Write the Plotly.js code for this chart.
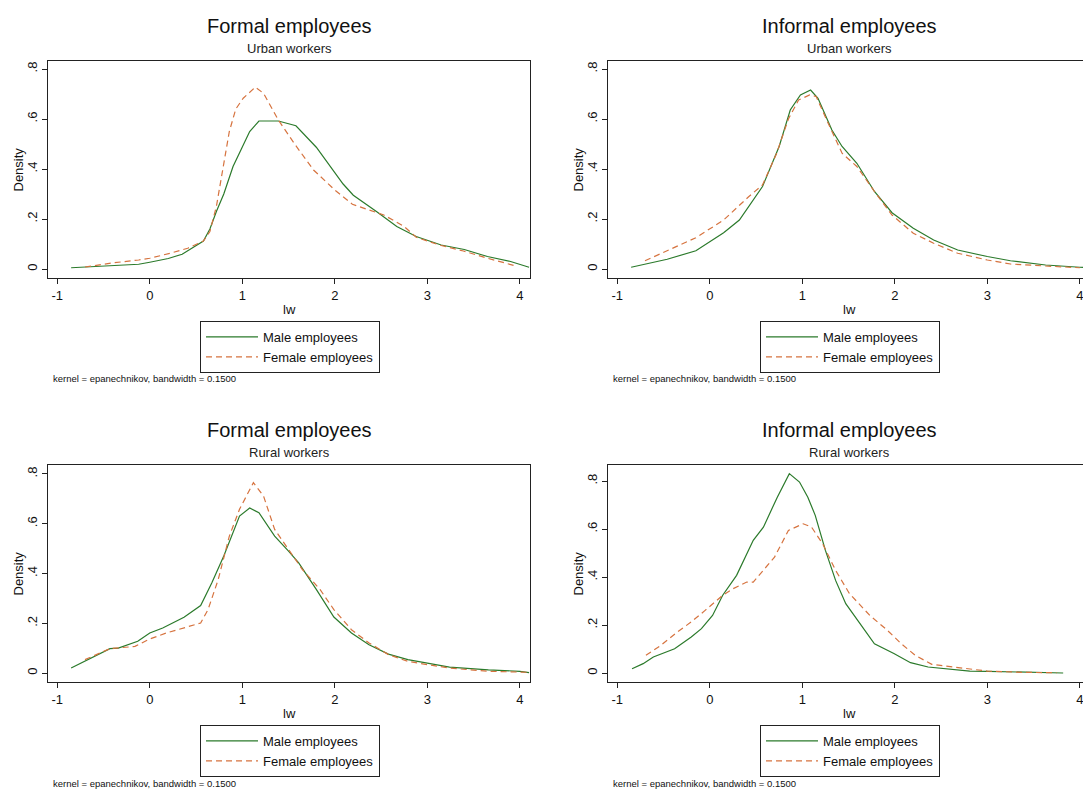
<!DOCTYPE html>
<html>
<head>
<meta charset="utf-8">
<script src="https://cdn.plot.ly/plotly-3.0.1.min.js"></script>
<style>
html,body{margin:0;padding:0;overflow:hidden;background:#fff;}
#chart{width:1120px;height:793px;}
</style>
</head>
<body>
<div id="chart"></div>
<script>
// ---- Data ----
const panelTitles = ["Formal employees", "Informal employees", "Formal employees", "Informal employees"];
const panelSubtitles = ["Urban workers", "Urban workers", "Rural workers", "Rural workers"];
const seriesNames = ["Male employees", "Female employees"];
const xTickVals = [-1, 0, 1, 2, 3, 4];
const xTickText = ["-1", "0", "1", "2", "3", "4"];
const yTickVals = [0, 0.2, 0.4, 0.6, 0.8];
const yTickText = ["0", ".2", ".4", ".6", ".8"];
const noteText = "kernel = epanechnikov, bandwidth = 0.1500";

// Formal, urban
const formalUrbanMaleX = [-0.85,-0.5,-0.12,0,0.2,0.35,0.58,0.65,0.72,0.8,0.9,0.99,1.08,1.18,1.39,1.58,1.8,2.09,2.2,2.45,2.67,2.88,3.15,3.4,3.65,3.9,4.1];
const formalUrbanMaleY = [0.005,0.012,0.019,0.027,0.042,0.059,0.112,0.16,0.23,0.3,0.41,0.48,0.55,0.592,0.592,0.573,0.487,0.34,0.295,0.23,0.17,0.13,0.096,0.078,0.05,0.03,0.007];
const formalUrbanFemaleX = [-0.7,-0.39,-0.12,0,0.22,0.41,0.58,0.65,0.72,0.8,0.86,0.93,1.01,1.14,1.23,1.39,1.56,1.77,2.0,2.19,2.53,2.75,2.88,3.13,3.39,3.65,3.95];
const formalUrbanFemaleY = [0.008,0.025,0.036,0.043,0.063,0.083,0.112,0.15,0.25,0.42,0.55,0.64,0.683,0.727,0.703,0.596,0.503,0.396,0.316,0.259,0.216,0.17,0.127,0.096,0.072,0.043,0.013];

// Informal, urban
const informalUrbanMaleX = [-0.85,-0.46,-0.15,0.15,0.32,0.57,0.75,0.87,0.98,1.09,1.17,1.32,1.43,1.59,1.78,1.97,2.2,2.42,2.68,3.0,3.25,3.63,4.0,4.1];
const informalUrbanMaleY = [0.007,0.039,0.073,0.145,0.196,0.33,0.49,0.636,0.696,0.716,0.683,0.556,0.49,0.423,0.31,0.225,0.163,0.116,0.076,0.05,0.033,0.016,0.007,0.005];
const informalUrbanFemaleX = [-0.7,-0.42,-0.15,0.15,0.42,0.57,0.72,0.85,0.96,1.08,1.15,1.28,1.43,1.59,1.78,1.97,2.2,2.42,2.68,3.0,3.25,3.63,3.9,4.0];
const informalUrbanFemaleY = [0.033,0.08,0.125,0.196,0.289,0.336,0.46,0.6,0.676,0.696,0.69,0.583,0.463,0.41,0.31,0.216,0.143,0.103,0.063,0.036,0.02,0.012,0.007,0.005];

// Formal, rural
const formalRuralMaleX = [-0.85,-0.7,-0.43,-0.34,-0.2,-0.13,0,0.14,0.37,0.55,0.67,0.8,0.97,1.08,1.18,1.35,1.5,1.61,1.8,1.99,2.18,2.37,2.58,2.79,3.0,3.24,3.66,4.0,4.1];
const formalRuralMaleY = [0.02,0.047,0.098,0.1,0.12,0.128,0.161,0.181,0.224,0.271,0.362,0.47,0.631,0.663,0.644,0.55,0.49,0.443,0.336,0.225,0.161,0.114,0.076,0.054,0.04,0.024,0.013,0.007,0.002];
const formalRuralFemaleX = [-0.7,-0.43,-0.16,0,0.18,0.37,0.55,0.63,0.74,0.86,0.97,1.12,1.23,1.35,1.5,1.65,1.84,1.99,2.18,2.37,2.58,2.79,3.0,3.24,3.66,4.1];
const formalRuralFemaleY = [0.054,0.098,0.107,0.137,0.161,0.181,0.201,0.255,0.376,0.55,0.658,0.765,0.711,0.577,0.497,0.416,0.336,0.255,0.174,0.121,0.074,0.047,0.034,0.02,0.007,0.003];

// Informal, rural
const informalRuralMaleX = [-0.84,-0.72,-0.61,-0.38,-0.2,-0.09,0.03,0.14,0.29,0.47,0.58,0.73,0.86,0.97,1.06,1.14,1.25,1.36,1.47,1.62,1.78,1.99,2.17,2.36,2.58,2.81,3.0,3.37,3.82];
const informalRuralMaleY = [0.018,0.039,0.067,0.101,0.15,0.185,0.24,0.324,0.407,0.553,0.608,0.733,0.831,0.796,0.733,0.657,0.511,0.386,0.289,0.206,0.122,0.081,0.043,0.025,0.018,0.008,0.007,0.003,0.0];
const informalRuralFemaleX = [-0.69,-0.53,-0.35,-0.2,-0.05,0.14,0.25,0.4,0.47,0.58,0.7,0.85,1.01,1.1,1.22,1.36,1.51,1.73,1.92,2.07,2.22,2.4,2.63,2.81,3.0,3.37,3.75];
const informalRuralFemaleY = [0.074,0.115,0.171,0.213,0.261,0.324,0.351,0.379,0.379,0.428,0.483,0.594,0.622,0.608,0.539,0.428,0.331,0.24,0.178,0.122,0.074,0.036,0.025,0.014,0.008,0.003,0.001];

// ---- Layout / style ----
const W = 1120, H = 793;
const FONT = "Liberation Sans, Arial, sans-serif";
const GREEN = "#2b7a2b";
const ORANGE = "#d6733f";

const panels = [
  {maleX: formalUrbanMaleX, maleY: formalUrbanMaleY, femX: formalUrbanFemaleX, femY: formalUrbanFemaleY,
   px: [48, 530], py: [61, 278], yr: [-0.036, 0.832], title: panelTitles[0], sub: panelSubtitles[0]},
  {maleX: informalUrbanMaleX, maleY: informalUrbanMaleY, femX: informalUrbanFemaleX, femY: informalUrbanFemaleY,
   px: [608, 1090], py: [61, 278], yr: [-0.036, 0.832], title: panelTitles[1], sub: panelSubtitles[1]},
  {maleX: formalRuralMaleX, maleY: formalRuralMaleY, femX: formalRuralFemaleX, femY: formalRuralFemaleY,
   px: [48, 530], py: [465, 682], yr: [-0.036, 0.836], title: panelTitles[2], sub: panelSubtitles[2]},
  {maleX: informalRuralMaleX, maleY: informalRuralMaleY, femX: informalRuralFemaleX, femY: informalRuralFemaleY,
   px: [608, 1090], py: [465, 682], yr: [-0.0375, 0.867], title: panelTitles[3], sub: panelSubtitles[3]}
];

const traces = [];
const layout = {
  width: W, height: H,
  margin: {l: 0, r: 0, t: 0, b: 0},
  paper_bgcolor: "#ffffff",
  plot_bgcolor: "#ffffff",
  font: {family: FONT, color: "#111", size: 12},
  showlegend: true,
  annotations: []
};

panels.forEach((p, i) => {
  const n = i + 1;
  const xa = n === 1 ? "x" : "x" + n;
  const ya = n === 1 ? "y" : "y" + n;
  const legName = n === 1 ? "legend" : "legend" + n;
  traces.push({
    type: "scatter", mode: "lines", x: p.maleX, y: p.maleY, name: seriesNames[0],
    xaxis: xa, yaxis: ya, legend: legName,
    line: {color: GREEN, width: 1.2}
  });
  traces.push({
    type: "scatter", mode: "lines", x: p.femX, y: p.femY, name: seriesNames[1],
    xaxis: xa, yaxis: ya, legend: legName,
    line: {color: ORANGE, width: 1.2, dash: "6px,4px"}
  });

  const axCommon = {
    showgrid: false, zeroline: false, showline: true, mirror: true,
    linecolor: "#222", linewidth: 1.3,
    ticks: "outside", ticklen: 5, tickcolor: "#222", tickwidth: 1,
    tickfont: {family: FONT, size: 13, color: "#111"}
  };
  layout["xaxis" + (n === 1 ? "" : n)] = Object.assign({}, axCommon, {
    domain: [p.px[0] / W, p.px[1] / W],
    range: [-1.1, 4.11],
    tickvals: xTickVals, ticktext: xTickText,
    anchor: ya
  });
  layout["yaxis" + (n === 1 ? "" : n)] = Object.assign({}, axCommon, {
    domain: [1 - p.py[1] / H, 1 - p.py[0] / H],
    range: p.yr,
    tickvals: yTickVals, ticktext: yTickText,
    tickangle: -90,
    anchor: xa
  });

  const cx = (p.px[0] + p.px[1]) / 2;
  layout[legName] = {
    x: (cx + 1) / W, xanchor: "center",
    y: 1 - (p.py[1] + 43) / H, yanchor: "top",
    bgcolor: "#ffffff", bordercolor: "#222", borderwidth: 1,
    font: {family: FONT, size: 13, color: "#111"},
    itemwidth: 52, tracegroupgap: 0,
    orientation: "v"
  };

  // Titles
  layout.annotations.push({
    text: p.title, x: cx / W, y: 1 - (p.py[0] - 35) / H,
    xref: "paper", yref: "paper", xanchor: "center", yanchor: "middle",
    showarrow: false, font: {family: FONT, size: 20, color: "#111"}
  });
  layout.annotations.push({
    text: p.sub, x: cx / W, y: 1 - (p.py[0] - 13) / H,
    xref: "paper", yref: "paper", xanchor: "center", yanchor: "middle",
    showarrow: false, font: {family: FONT, size: 13, color: "#222"}
  });
  // axis titles
  layout.annotations.push({
    text: "lw", x: cx / W, y: 1 - (p.py[1] + 31) / H,
    xref: "paper", yref: "paper", xanchor: "center", yanchor: "middle",
    showarrow: false, font: {family: FONT, size: 13, color: "#111"}
  });
  layout.annotations.push({
    text: "Density", x: (p.px[0] - 30) / W, y: 1 - ((p.py[0] + p.py[1]) / 2) / H,
    xref: "paper", yref: "paper", xanchor: "center", yanchor: "middle", textangle: -90,
    showarrow: false, font: {family: FONT, size: 13, color: "#111"}
  });
  // note
  layout.annotations.push({
    text: noteText, x: (p.px[0] + 3) / W, y: 1 - (p.py[1] + 101) / H,
    xref: "paper", yref: "paper", xanchor: "left", yanchor: "middle",
    showarrow: false, font: {family: FONT, size: 9.5, color: "#111"}
  });
});

Plotly.newPlot("chart", traces, layout, {displayModeBar: false, staticPlot: true});
</script>
</body>
</html>
